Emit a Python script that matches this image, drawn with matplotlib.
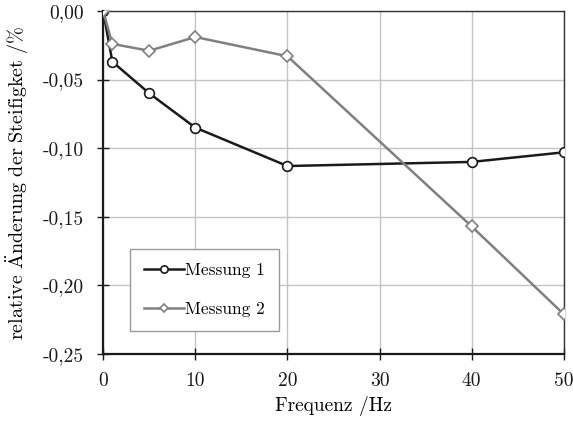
import matplotlib.pyplot as plt

plt.rcParams['font.family'] = ['cmr10', 'DejaVu Serif']
plt.rcParams['mathtext.fontset'] = 'cm'
plt.rcParams['axes.unicode_minus'] = False

# data
freq = [0, 1, 5, 10, 20, 40, 50]
messung1 = [0.0, -0.037, -0.060, -0.085, -0.113, -0.110, -0.103]
messung2 = [0.0, -0.024, -0.029, -0.019, -0.033, -0.157, -0.221]
xticks = [0, 10, 20, 30, 40, 50]
yticks = [0.0, -0.05, -0.10, -0.15, -0.20, -0.25]

fig = plt.figure(figsize=(5.73, 4.21), dpi=100)
ax = fig.add_axes([0.18, 0.159, 0.804, 0.815])

ax.plot(freq, messung1, color='#1a1a1a', lw=1.8, marker='o', ms=7,
        mfc='white', mec='#1a1a1a', mew=1.2, label='Messung 1', zorder=3)
ax.plot(freq, messung2, color='#808080', lw=1.8, marker='D', ms=6,
        mfc='white', mec='#808080', mew=1.2, label='Messung 2', zorder=3)

ax.set_xlim(0, 50)
ax.set_ylim(-0.25, 0.0)
ax.set_xticks(xticks)
ax.set_yticks(yticks)
ax.set_xticklabels([str(x) for x in xticks], fontsize=14)
ax.set_yticklabels([('%.2f' % y).replace('.', ',').replace('-0,00', '0,00') for y in yticks],
                   fontsize=14)
ax.grid(True, color='#c4c4c4', lw=1.0, zorder=0)
ax.set_axisbelow(True)

for s in ['left', 'bottom']:
    ax.spines[s].set_linewidth(1.6)
    ax.spines[s].set_color('#1a1a1a')
for s in ['top', 'right']:
    ax.spines[s].set_linewidth(1.0)
    ax.spines[s].set_color('#333333')
ax.tick_params(direction='inout', length=8, width=1.0, colors='#1a1a1a')
ax.tick_params(axis='x', pad=9)
ax.tick_params(axis='y', pad=10)

ax.set_xlabel('Frequenz /Hz', fontsize=14, labelpad=4)
ax.set_ylabel(r'$\mathrm{relative\ \ddot{A}nderung\ der\ Steifigket\ /\%}$', fontsize=14.5, labelpad=8)

leg = ax.legend(loc='lower left', bbox_to_anchor=(0.058, 0.067), fontsize=12.5,
                frameon=True, fancybox=False, edgecolor='#999999', framealpha=1,
                handlelength=2.3, borderpad=0.8, labelspacing=1.35, handletextpad=0.1,
                markerscale=0.75, borderaxespad=0)
leg.get_frame().set_linewidth(1.0)

fig.savefig('out.png', dpi=100)
